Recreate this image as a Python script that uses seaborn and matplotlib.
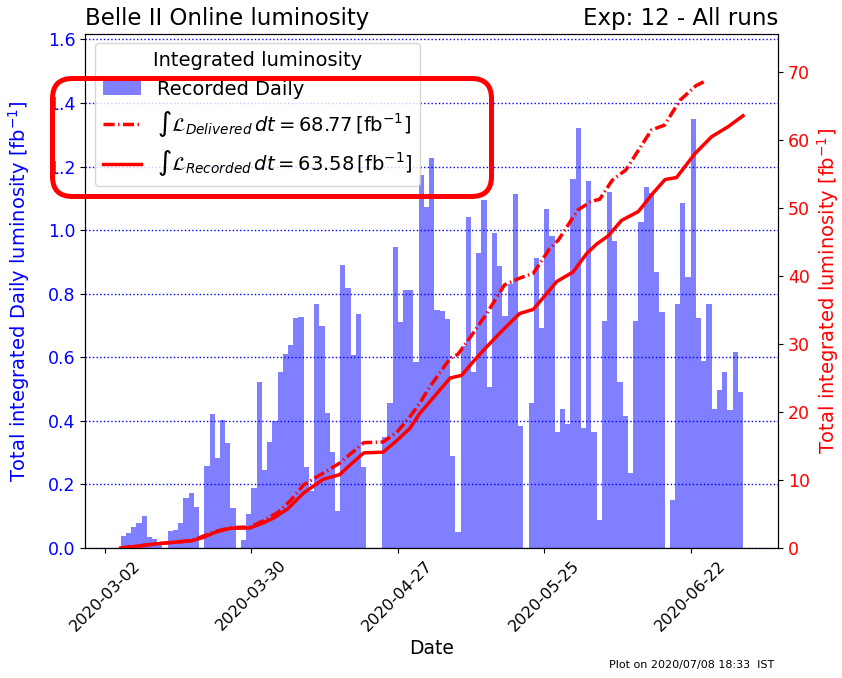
import pandas as pd
import seaborn as sns
import matplotlib.pyplot as plt
from matplotlib.patches import Patch, FancyBboxPatch
from matplotlib.lines import Line2D
from matplotlib.transforms import IdentityTransform

# day zero of the x axis and first day with a daily bar
START = pd.Timestamp("2020-03-02")
FIRST_DAY = "2020-03-05"

# recorded daily luminosity [fb^-1], one value per day from FIRST_DAY (2020-03-05 .. 2020-07-01)
daily_recorded = [
    0.039, 0.048, 0.065, 0.078, 0.100, 0.036, 0.027, 0.020, 0.000, 0.055,
    0.057, 0.080, 0.157, 0.173, 0.130, 0.000, 0.258, 0.422, 0.284, 0.403,
    0.330, 0.125, 0.000, 0.025, 0.107, 0.188, 0.522, 0.246, 0.332, 0.400,
    0.553, 0.611, 0.638, 0.723, 0.727, 0.256, 0.180, 0.768, 0.697, 0.424,
    0.303, 0.117, 0.889, 0.818, 0.608, 0.737, 0.256, 0.000, 0.000, 0.000,
    0.349, 0.456, 0.946, 0.710, 0.813, 0.813, 0.585, 1.172, 1.072, 1.227,
    0.750, 0.745, 0.720, 0.288, 0.050, 0.637, 1.040, 0.555, 0.928, 1.094,
    0.506, 0.991, 0.888, 0.729, 0.830, 1.114, 0.385, 0.000, 0.455, 0.912,
    0.693, 1.065, 0.980, 0.366, 0.437, 0.390, 1.161, 1.322, 0.377, 1.156,
    0.364, 0.088, 0.715, 1.120, 0.965, 0.521, 0.416, 0.235, 0.715, 1.027,
    1.135, 1.117, 0.868, 0.743, 0.000, 0.151, 0.767, 1.085, 0.851, 1.348,
    0.723, 0.587, 0.767, 0.438, 0.498, 0.553, 0.435, 0.616, 0.490,
]

# integrated luminosity curves (days since START, fb^-1)
recorded_days = [3, 6, 9.6, 12.7, 16.6, 19, 21, 24, 27.7, 30, 32.5, 35, 38, 41.7,
                 44.9, 47, 49.5, 53.2, 55.8, 58.3, 60.2, 62.1, 66, 68.2, 70.5, 73,
                 76, 79.3, 81.9, 84, 86.4, 89.5, 92.1, 94, 96.2, 98.8, 102, 104.8,
                 107.1, 109.3, 112.8, 116, 119.2, 122]
recorded_lumi = [0.0, 0.25, 0.6, 0.8, 1.07, 1.6, 2.3, 2.9, 2.95, 3.6, 4.5, 5.8, 8.1, 10.1,
                 10.8, 12.3, 14.0, 14.1, 15.8, 17.6, 19.8, 21.5, 25.0, 25.4, 27.5, 29.6,
                 32.0, 34.5, 35.1, 37.0, 39.2, 40.6, 43.3, 44.7, 45.9, 48.2, 49.5, 52.2,
                 54.2, 54.5, 58.0, 60.5, 62.0, 63.58]

delivered_days = [3, 9.6, 16.6, 21, 24, 27.7, 30, 33, 35.5, 38, 41.7, 44.9, 49.5, 53.2,
                  55.8, 58.3, 60.2, 62.1, 66, 67.5, 69.5, 73, 76.4, 79.3, 81.9, 85,
                  86.7, 90.4, 92.8, 94, 94.6, 97, 98.7, 99.6, 102, 104.5, 107, 108.2,
                  110, 113, 115]
delivered_lumi = [0.0, 0.6, 1.1, 2.4, 3.0, 3.1, 3.9, 5.2, 7.0, 9.3, 11.0, 12.5, 15.5, 15.6,
                  17.0, 19.3, 21.3, 23.7, 27.9, 28.5, 30.6, 34.5, 38.7, 39.7, 40.4, 44.0,
                  45.3, 49.7, 50.9, 51.2, 51.3, 54.1, 55.1, 55.6, 58.5, 61.5, 62.2, 63.7,
                  65.9, 68.0, 68.77]

tick_dates = ["2020-03-02", "2020-03-30", "2020-04-27", "2020-05-25", "2020-06-22"]

dates = pd.date_range(FIRST_DAY, periods=len(daily_recorded), freq="D")
df_daily = pd.DataFrame({"day": (dates - START).days + 0.5, "lumi": daily_recorded})

fig = plt.figure(figsize=(8.42, 6.78), dpi=100)
ax = fig.add_axes([0.101, 0.1917, 0.823, 0.7585])
ax2 = ax.twinx()

sns.barplot(data=df_daily, x="day", y="lumi", native_scale=True, width=1.0,
            color="blue", saturation=1, alpha=0.5, linewidth=0, errorbar=None, ax=ax)

dashdot = (0, (3.2, 1.0, 0.4, 1.0))
sns.lineplot(x=delivered_days, y=delivered_lumi, ax=ax2, color="red", lw=2.5, linestyle=dashdot)
sns.lineplot(x=recorded_days, y=recorded_lumi, ax=ax2, color="red", lw=2.5)

ax.set_ylim(0, max(daily_recorded) * 1.2)
ax2.set_ylim(0, delivered_lumi[-1] * 1.1)
ax.set_xlim(-3.8, 128.7)

tick_pos = [(pd.Timestamp(d) - START).days for d in tick_dates]
ax.set_xticks(tick_pos)
ax.set_xticklabels(tick_dates, rotation=45, fontsize=11.5)

ax.grid(axis="y", color="blue", linestyle=":", linewidth=1.0)
ax.tick_params(axis="y", labelcolor="blue", labelsize=12.5)
ax2.tick_params(axis="y", labelcolor="red", labelsize=12.5)

ax.set_xlabel("Date", fontsize=13.5)
ax.set_ylabel(r"Total integrated Daily luminosity [fb$^{-1}$]", color="blue", fontsize=14, labelpad=11)
ax2.set_ylabel(r"Total integrated luminosity [fb$^{-1}$]", color="red", fontsize=14, labelpad=4)

ax.set_title("Belle II Online luminosity", loc="left", fontsize=16.5)
ax.set_title("Exp: 12 - All runs", loc="right", fontsize=16.5)

handles = [
    Patch(facecolor="blue", alpha=0.5, linewidth=0),
    Line2D([], [], color="red", lw=2.5, linestyle=dashdot),
    Line2D([], [], color="red", lw=2.5),
]
labels = [
    "Recorded Daily",
    r"$\int\mathcal{L}_{Delivered}\,dt = %.2f\,[\mathrm{fb}^{-1}]$" % delivered_lumi[-1],
    r"$\int\mathcal{L}_{Recorded}\,dt = %.2f\,[\mathrm{fb}^{-1}]$" % recorded_lumi[-1],
]
ax2.legend(handles, labels, title="Integrated luminosity", loc="upper left",
           fontsize=14, title_fontsize=14)

# red highlight box drawn over the legend
fig.add_artist(FancyBboxPatch((52.5, 678 - 196.5), 439, 118,
                              boxstyle="round,pad=0,rounding_size=20",
                              transform=IdentityTransform(), fill=False,
                              edgecolor="red", linewidth=3.6, zorder=10))

fig.text(0.92, 0.012, "Plot on 2020/07/08 18:33  IST", ha="right", va="bottom", fontsize=8)

fig.savefig("out.png", dpi=100)
